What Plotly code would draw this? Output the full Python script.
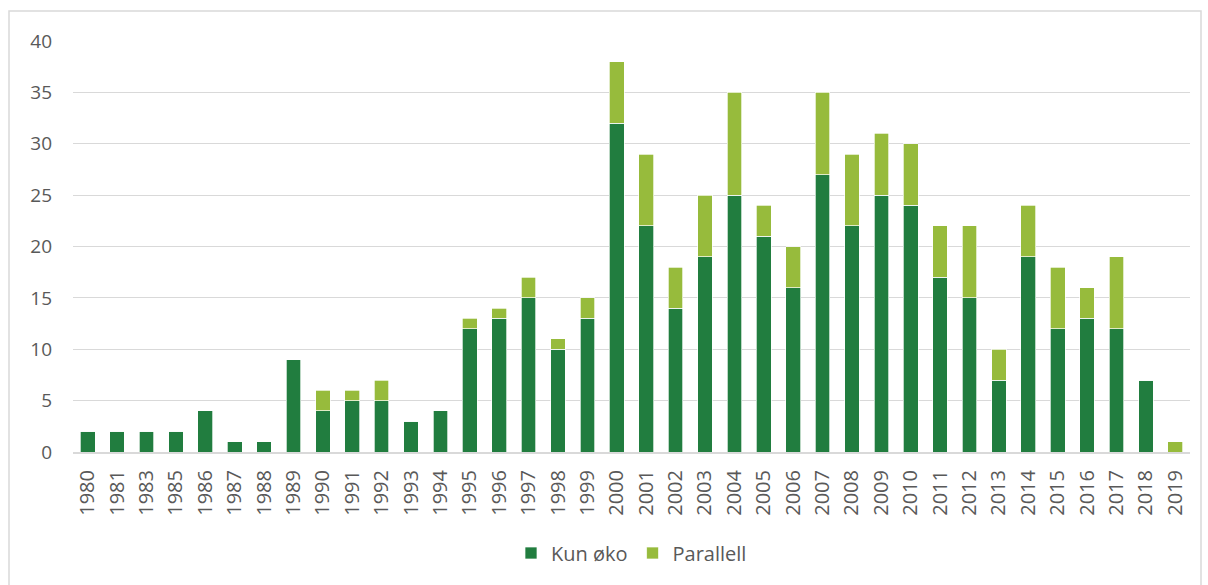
import plotly.graph_objects as go

years = ["1980", "1981", "1983", "1985", "1986", "1987", "1988", "1989", "1990",
         "1991", "1992", "1993", "1994", "1995", "1996", "1997", "1998", "1999",
         "2000", "2001", "2002", "2003", "2004", "2005", "2006", "2007", "2008",
         "2009", "2010", "2011", "2012", "2013", "2014", "2015", "2016", "2017",
         "2018", "2019"]
kun_oko = [2, 2, 2, 2, 4, 1, 1, 9, 4, 5, 5, 3, 4, 12, 13, 15, 10, 13,
           32, 22, 14, 19, 25, 21, 16, 27, 22, 25, 24, 17, 15, 7, 19, 12, 13, 12,
           7, 0]
parallell = [0, 0, 0, 0, 0, 0, 0, 0, 2, 1, 2, 0, 0, 1, 1, 2, 1, 2,
             6, 7, 4, 6, 10, 3, 4, 8, 7, 6, 6, 5, 7, 3, 5, 6, 3, 7,
             0, 1]
y_ticks = [0, 5, 10, 15, 20, 25, 30, 35, 40]

W, H = 1208, 585
L, R, T, B = 73, 18, 41, 133
pw, ph = W - L - R, H - T - B

fig = go.Figure()
fig.add_trace(go.Bar(x=years, y=kun_oko, name="Kun øko",
                     marker=dict(color="#217D3F", line=dict(color="white", width=0.7))))
fig.add_trace(go.Bar(x=years, y=parallell, name="Parallell",
                     marker=dict(color="#97BB3C", line=dict(color="white", width=0.7))))

# thin outer frame like the Excel chart area
fig.add_shape(type="rect", xref="paper", yref="paper",
              x0=(9 - L) / pw, x1=(1201 - L) / pw,
              y0=(H - B - 600) / ph, y1=(H - B - 11) / ph,
              line=dict(color="#D9D9D9", width=1.5), layer="below")

fig.update_layout(
    width=W, height=H,
    barmode="stack", bargap=0.5,
    margin=dict(l=L, r=R, t=T, b=B),
    paper_bgcolor="white", plot_bgcolor="white",
    font=dict(family="Open Sans, Liberation Sans, sans-serif", size=19, color="#595959"),
    legend=dict(orientation="h", x=0.5, xanchor="center", y=(H - B - 553) / ph,
                yanchor="middle", font=dict(size=20), traceorder="normal"),
    xaxis=dict(type="category", tickangle=-90, showline=True, linecolor="#D9D9D9",
               linewidth=2, ticks="", tickfont=dict(size=20), ticklabelstandoff=8),
    yaxis=dict(range=[0, 40], tickvals=y_ticks, showgrid=True, gridcolor="#D9D9D9",
               gridwidth=1.3, zeroline=False, ticks="", ticklabelstandoff=20,
               tickfont=dict(size=19)),
)

fig.write_html("out.html", config={"displayModeBar": False},
               post_script="document.body.style.margin='0';")
